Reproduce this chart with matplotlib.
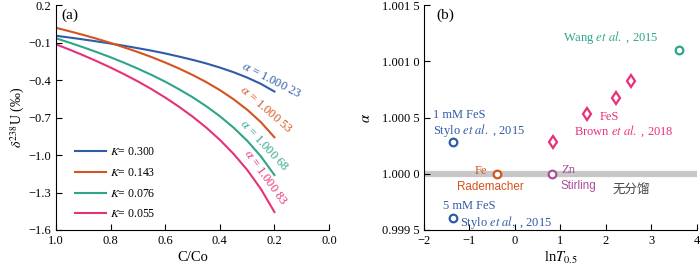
import numpy as np
import matplotlib
matplotlib.use('Agg')
import matplotlib.pyplot as plt

plt.rcParams['font.family'] = ['Liberation Serif', 'Noto Sans CJK SC', 'DejaVu Sans']
plt.rcParams['mathtext.fontset'] = 'stix'
plt.rcParams['font.size'] = 9

# panel (a): C/Co vs d238U
frac = [1.0, 0.95, 0.9, 0.85, 0.8, 0.75, 0.7, 0.65, 0.6, 0.55, 0.5, 0.45, 0.4, 0.35, 0.3, 0.25, 0.2]
d_k300 = [-0.046, -0.060, -0.075, -0.091, -0.108, -0.126, -0.145, -0.165, -0.187, -0.212,
          -0.238, -0.267, -0.300, -0.337, -0.380, -0.430, -0.492]
d_k143 = [0.018, -0.010, -0.039, -0.070, -0.103, -0.139, -0.176, -0.216, -0.260, -0.307,
          -0.359, -0.416, -0.480, -0.553, -0.637, -0.736, -0.858]
d_k076 = [-0.066, -0.101, -0.138, -0.177, -0.218, -0.262, -0.309, -0.359, -0.413, -0.473,
          -0.537, -0.609, -0.689, -0.780, -0.885, -1.009, -1.160]
d_k055 = [-0.114, -0.157, -0.202, -0.250, -0.300, -0.354, -0.411, -0.473, -0.540, -0.613,
          -0.692, -0.780, -0.878, -0.990, -1.118, -1.270, -1.456]
k_labels = ['0.300', '0.143', '0.076', '0.055']
alpha_labels = ['1.000 23', '1.000 53', '1.000 68', '1.000 83']

# panel (b): lnT0.5 vs alpha
stylo_x = [-1.37, -1.37]
stylo_y = [1.000280, 0.999604]
fe_x, fe_y = [-0.40], [1.0]
zn_x, zn_y = [0.82], [1.0]
brown_x = [0.84, 1.58, 2.21, 2.55]
brown_y = [1.000280, 1.000531, 1.000676, 1.000828]
wang_x, wang_y = [3.60], [1.001100]

blue = '#2f5ba8'
orange = '#d4531f'
green = '#2ea58b'
pink = '#e8307a'
purple = '#a94f9c'

fig = plt.figure(figsize=(7, 2.71), dpi=100)
ax1 = fig.add_axes([0.080, 0.1513, 0.390, 0.830])
ax2 = fig.add_axes([0.6057, 0.1513, 0.390, 0.830])

for ax in (ax1, ax2):
    ax.spines['top'].set_visible(False)
    ax.spines['right'].set_visible(False)
    ax.tick_params(direction='in', length=4, width=0.8, labelsize=9)

series = [d_k300, d_k143, d_k076, d_k055]
colors = [blue, orange, green, pink]
for vals, c, k in zip(series, colors, k_labels):
    ax1.plot(frac, vals, color=c, lw=1.5, label=f'$K$= {k}')

ax1.set_xlim(1.0, 0.0)
ax1.set_ylim(-1.6, 0.2)
ax1.set_xticks([1.0, 0.8, 0.6, 0.4, 0.2, 0.0])
ax1.set_yticks([0.2, -0.1, -0.4, -0.7, -1.0, -1.3, -1.6])
ax1.set_xlabel('C/Co', labelpad=3, fontsize=10.5)
ax1.set_ylabel(r'$\delta^{238}$U (‰)', labelpad=1, fontsize=10)
ax1.text(0.05, 0.956, '(a)', transform=ax1.transAxes, ha='center', va='center', fontsize=11)

# rotated alpha labels near the curve ends
lab_pos = [(0.21, -0.40, -27), (0.23, -0.64, -41), (0.24, -0.92, -47), (0.235, -1.18, -54)]
for (x, y, rot), c, a in zip(lab_pos, colors, alpha_labels):
    ax1.text(x, y, r'$\alpha$ = ' + a, color=c, rotation=rot, ha='center', va='center',
             fontsize=9, rotation_mode='anchor')

ax1.legend(loc='lower left', bbox_to_anchor=(0.03, -0.005), frameon=False, fontsize=8.5,
           handlelength=2.6, handletextpad=0.4, labelspacing=0.75)

# panel (b)
ax2.axhline(1.0, color='#c8c8c8', lw=4.5, zorder=1)
mk = dict(ls='none', mfc='white', mew=1.6, zorder=3)
ax2.plot(stylo_x, stylo_y, 'o', mec=blue, ms=5.5, **mk)
ax2.plot(fe_x, fe_y, 'o', mec=orange, ms=5.5, **mk)
ax2.plot(zn_x, zn_y, 'o', mec=purple, ms=5.5, **mk)
ax2.plot(wang_x, wang_y, 'o', mec=green, ms=5.5, **mk)
ax2.plot(brown_x, brown_y, 'd', mec=pink, ms=6.5, **mk)

ax2.set_xlim(-2, 4)
ax2.set_ylim(0.9995, 1.0015)
ax2.set_xticks([-2, -1, 0, 1, 2, 3, 4])
ax2.set_yticks([0.9995, 1.0, 1.0005, 1.0010, 1.0015])
ax2.set_yticklabels(['0.999 5', '1.000 0', '1.000 5', '1.001 0', '1.001 5'])
ax2.set_xlabel(r'ln$T_{0.5}$', labelpad=2, fontsize=10.5)
ax2.set_ylabel(r'$\alpha$', labelpad=6, fontsize=10.5)
ax2.text(0.077, 0.956, '(b)', transform=ax2.transAxes, ha='center', va='center', fontsize=11)

fs = 9
ax2.text(-1.80, 1.000522, '1 mM FeS', color=blue, va='center', fontsize=fs)
ax2.text(-1.80, 1.000389, r'Stylo $\it{et\ al.}$ , 2015', color=blue, va='center', fontsize=fs)
ax2.text(-1.58, 0.999713, '5 mM FeS', color=blue, va='center', fontsize=fs)
ax2.text(-1.21, 0.999571, r'Stylo $\it{et\ al},$ , 2015', color=blue, va='center', fontsize=fs)
ax2.text(1.05, 1.001216, r'Wang $\it{et\ al.}$ , 2015', color=green, va='center', fontsize=fs)
ax2.text(1.87, 1.000504, 'FeS', color=pink, va='center', fontsize=fs)
ax2.text(1.30, 1.000380, r'Brown $\it{et\ al.}$ , 2018', color=pink, va='center', fontsize=fs)
ax2.text(-0.61, 1.000024, 'Fe', color=orange, va='center', ha='right', fontsize=fs)
ax2.text(-1.27, 0.999882, 'Rademacher', color=orange, va='center', fontsize=8.4,
         family='Liberation Sans')
ax2.text(1.01, 1.000033, 'Zn', color=purple, va='center', fontsize=fs)
ax2.text(1.01, 0.999890, 'Stirling', color=purple, va='center', fontsize=8.4,
         family='Liberation Sans')
ax2.text(2.15, 0.999856, '无分馏', color='#444444', va='center', fontsize=fs,
         family=['Noto Sans CJK SC', 'DejaVu Sans'])

fig.savefig('out.png', dpi=100)
